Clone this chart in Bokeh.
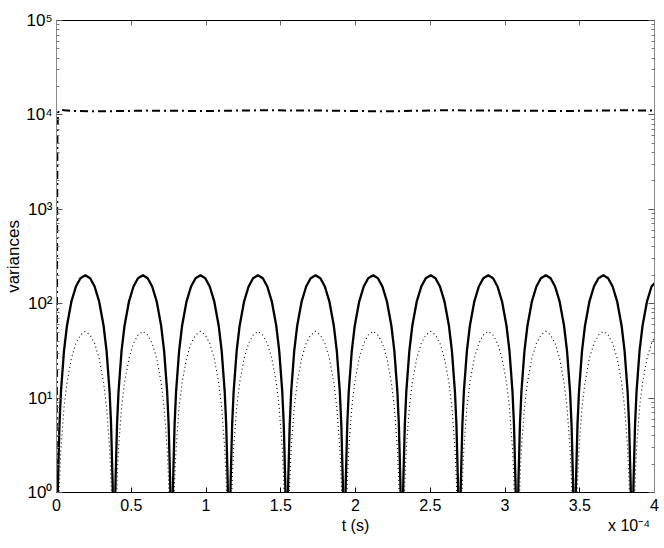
from bokeh.plotting import figure
from bokeh.models import (ColumnDataSource, LinearAxis, LogAxis, FixedTicker,
                          CustomJSTickFormatter)
from bokeh.embed import file_html
from bokeh.resources import INLINE

# ---- data (time in units of 1e-4 s) ----
t_e4 = [
    0.0, 0.01, 0.02, 0.03, 0.05, 0.07, 0.10, 0.13, 0.16, 0.193, 0.225, 0.255, 0.285, 0.315, 0.335, 0.355, 0.365, 0.375,
    0.385, 0.395, 0.405, 0.415, 0.435, 0.455, 0.485, 0.515, 0.545, 0.578, 0.61, 0.64, 0.67, 0.70, 0.72, 0.74, 0.75, 0.76,
    0.77, 0.78, 0.79, 0.80, 0.82, 0.84, 0.87, 0.90, 0.93, 0.963, 0.995, 1.025, 1.055, 1.085, 1.105, 1.125, 1.135, 1.145,
    1.155, 1.165, 1.175, 1.185, 1.205, 1.225, 1.255, 1.285, 1.315, 1.348, 1.38, 1.41, 1.44, 1.47, 1.49, 1.51, 1.52, 1.53,
    1.54, 1.55, 1.56, 1.57, 1.59, 1.61, 1.64, 1.67, 1.70, 1.733, 1.765, 1.795, 1.825, 1.855, 1.875, 1.895, 1.905, 1.915,
    1.925, 1.935, 1.945, 1.955, 1.975, 1.995, 2.025, 2.055, 2.085, 2.118, 2.15, 2.18, 2.21, 2.24, 2.26, 2.28, 2.29, 2.30,
    2.31, 2.32, 2.33, 2.34, 2.36, 2.38, 2.41, 2.44, 2.47, 2.503, 2.535, 2.565, 2.595, 2.625, 2.645, 2.665, 2.675, 2.685,
    2.695, 2.705, 2.715, 2.725, 2.745, 2.765, 2.795, 2.825, 2.855, 2.888, 2.92, 2.95, 2.98, 3.01, 3.03, 3.05, 3.06, 3.07,
    3.08, 3.09, 3.10, 3.11, 3.13, 3.15, 3.18, 3.21, 3.24, 3.273, 3.305, 3.335, 3.365, 3.395, 3.415, 3.435, 3.445, 3.455,
    3.465, 3.475, 3.485, 3.495, 3.515, 3.535, 3.565, 3.595, 3.625, 3.658, 3.69, 3.72, 3.75, 3.78, 3.80, 3.82, 3.83, 3.84,
    3.85, 3.86, 3.87, 3.88, 3.90, 3.92, 3.95, 3.98, 4.00,
]

var_solid = [
    0.2, 1.33, 5.3, 11.8, 31.5, 58.4, 106, 152, 186, 200, 186, 152, 106, 58.4, 31.5, 11.8, 5.3, 1.33,
    0.2, 1.33, 5.3, 11.8, 31.5, 58.4, 106, 152, 186, 200, 186, 152, 106, 58.4, 31.5, 11.8, 5.3, 1.33,
    0.2, 1.33, 5.3, 11.8, 31.5, 58.4, 106, 152, 186, 200, 186, 152, 106, 58.4, 31.5, 11.8, 5.3, 1.33,
    0.2, 1.33, 5.3, 11.8, 31.5, 58.4, 106, 152, 186, 200, 186, 152, 106, 58.4, 31.5, 11.8, 5.3, 1.33,
    0.2, 1.33, 5.3, 11.8, 31.5, 58.4, 106, 152, 186, 200, 186, 152, 106, 58.4, 31.5, 11.8, 5.3, 1.33,
    0.2, 1.33, 5.3, 11.8, 31.5, 58.4, 106, 152, 186, 200, 186, 152, 106, 58.4, 31.5, 11.8, 5.3, 1.33,
    0.2, 1.33, 5.3, 11.8, 31.5, 58.4, 106, 152, 186, 200, 186, 152, 106, 58.4, 31.5, 11.8, 5.3, 1.33,
    0.2, 1.33, 5.3, 11.8, 31.5, 58.4, 106, 152, 186, 200, 186, 152, 106, 58.4, 31.5, 11.8, 5.3, 1.33,
    0.2, 1.33, 5.3, 11.8, 31.5, 58.4, 106, 152, 186, 200, 186, 152, 106, 58.4, 31.5, 11.8, 5.3, 1.33,
    0.2, 1.33, 5.3, 11.8, 31.5, 58.4, 106, 152, 186, 200, 186, 152, 106, 58.4, 31.5, 11.8, 5.3, 1.33,
    0.2, 1.33, 5.3, 11.8, 31.5, 58.4, 106, 152, 165,
]

var_dotted = [
    0.05, 0.33, 1.32, 2.94, 7.9, 14.6, 26.5, 38, 46.5, 51, 46.5, 38, 26.5, 14.6, 7.9, 2.94, 1.32, 0.33,
    0.05, 0.33, 1.32, 2.94, 7.9, 14.6, 26.5, 38, 46.5, 51, 46.5, 38, 26.5, 14.6, 7.9, 2.94, 1.32, 0.33,
    0.05, 0.33, 1.32, 2.94, 7.9, 14.6, 26.5, 38, 46.5, 51, 46.5, 38, 26.5, 14.6, 7.9, 2.94, 1.32, 0.33,
    0.05, 0.33, 1.32, 2.94, 7.9, 14.6, 26.5, 38, 46.5, 51, 46.5, 38, 26.5, 14.6, 7.9, 2.94, 1.32, 0.33,
    0.05, 0.33, 1.32, 2.94, 7.9, 14.6, 26.5, 38, 46.5, 51, 46.5, 38, 26.5, 14.6, 7.9, 2.94, 1.32, 0.33,
    0.05, 0.33, 1.32, 2.94, 7.9, 14.6, 26.5, 38, 46.5, 51, 46.5, 38, 26.5, 14.6, 7.9, 2.94, 1.32, 0.33,
    0.05, 0.33, 1.32, 2.94, 7.9, 14.6, 26.5, 38, 46.5, 51, 46.5, 38, 26.5, 14.6, 7.9, 2.94, 1.32, 0.33,
    0.05, 0.33, 1.32, 2.94, 7.9, 14.6, 26.5, 38, 46.5, 51, 46.5, 38, 26.5, 14.6, 7.9, 2.94, 1.32, 0.33,
    0.05, 0.33, 1.32, 2.94, 7.9, 14.6, 26.5, 38, 46.5, 51, 46.5, 38, 26.5, 14.6, 7.9, 2.94, 1.32, 0.33,
    0.05, 0.33, 1.32, 2.94, 7.9, 14.6, 26.5, 38, 46.5, 51, 46.5, 38, 26.5, 14.6, 7.9, 2.94, 1.32, 0.33,
    0.05, 0.33, 1.32, 2.94, 7.9, 14.6, 26.5, 38, 44,
]

t_dashdot_e4 = [0.0, 0.002, 0.004, 0.006, 0.010, 0.02, 0.05, 0.1, 0.3, 0.6, 1.0, 1.4, 1.8, 2.2, 2.6, 3.0, 3.4, 3.8, 4.0]
var_dashdot = [0.5, 5, 300, 6000, 10500, 11300, 11200, 11000, 10900, 11100, 11000, 11200, 11100, 10900, 11200, 11100, 11000, 11200, 11100]

x_ticks = [0, 0.5, 1, 1.5, 2, 2.5, 3, 3.5, 4]
y_exponents = [0, 1, 2, 3, 4, 5]
x_label_text = "t (s)"
x_label_pos = 2.0
x_mult_text = "x 10\u207b\u2074"
x_mult_pos = 3.83

FONT = "Liberation Sans"

y_major = [10.0 ** e for e in y_exponents]
y_minor = [m * 10.0 ** e for e in y_exponents[:-1] for m in range(2, 10)]

p = figure(width=664, height=548, x_range=(0, 4), y_range=(1, 1e5),
           y_axis_type="log", output_backend="svg", toolbar_location=None,
           min_border_left=56, min_border_right=10, min_border_top=20,
           min_border_bottom=56)
p.background_fill_color = "white"
p.border_fill_color = "white"
p.outline_line_color = None
p.xgrid.visible = False
p.ygrid.visible = False

src = ColumnDataSource(dict(t=t_e4, solid=var_solid, dotted=var_dotted))
dd = ColumnDataSource(dict(t=t_dashdot_e4, v=var_dashdot))

p.line("t", "dotted", source=src, line_color="black", line_width=1.1, line_dash="1 3")
p.line("t", "solid", source=src, line_color="black", line_width=2.3)
p.line("t", "v", source=dd, line_color="black", line_width=2, line_dash="8 4 2 4")

# bottom x axis (tick labels)
xa = p.xaxis[0]
xa.ticker = FixedTicker(ticks=x_ticks)
xa.formatter = CustomJSTickFormatter(code="return tick.toString();")
xa.major_label_text_font = FONT
xa.major_label_text_font_size = "16px"
xa.major_label_text_color = "black"
xa.major_label_standoff = 6
xa.major_tick_in = 5
xa.major_tick_out = 0
xa.minor_tick_in = 0
xa.minor_tick_out = 0
xa.axis_line_color = "black"
xa.major_tick_line_color = "black"

# second row below: axis title and exponent multiplier
xa2 = LinearAxis(ticker=FixedTicker(ticks=[x_label_pos, x_mult_pos]),
                 formatter=CustomJSTickFormatter(
                     args=dict(lab=x_label_text, mult=x_mult_text, lp=x_label_pos),
                     code="return Math.abs(tick - lp) < 1e-6 ? lab : mult;"),
                 major_label_text_font=FONT, major_label_text_font_size="16px",
                 major_label_text_color="black", major_label_standoff=3,
                 major_tick_in=0, major_tick_out=0, minor_tick_in=0, minor_tick_out=0,
                 axis_line_color=None, major_tick_line_color=None,
                 minor_tick_line_color=None)
p.add_layout(xa2, "below")

# left y axis
ya = p.yaxis[0]
ya.ticker = FixedTicker(ticks=y_major, minor_ticks=y_minor)
ya.formatter = CustomJSTickFormatter(code="""
const sup = ['\\u2070', '\\u00b9', '\\u00b2', '\\u00b3', '\\u2074', '\\u2075',
             '\\u2076', '\\u2077', '\\u2078', '\\u2079'];
const e = Math.round(Math.log10(tick));
return '10' + sup[e];
""")
ya.axis_label = "variances"
ya.axis_label_text_font = FONT
ya.axis_label_text_font_size = "17px"
ya.axis_label_text_font_style = "normal"
ya.axis_label_text_color = "black"
ya.axis_label_standoff = 0
ya.major_label_text_font = FONT
ya.major_label_text_font_size = "17px"
ya.major_label_text_color = "black"
ya.major_label_standoff = 4
ya.major_tick_in = 6
ya.major_tick_out = 0
ya.minor_tick_in = 3
ya.minor_tick_out = 0
ya.axis_line_color = "#8a8a8a"
ya.major_tick_line_color = "#555555"
ya.minor_tick_line_color = "#777777"

# top axis (box)
ta = LinearAxis(ticker=FixedTicker(ticks=x_ticks),
                formatter=CustomJSTickFormatter(code="return '';"),
                major_label_text_font_size="1px",
                major_label_standoff=0, major_tick_in=5, major_tick_out=0,
                minor_tick_in=0, minor_tick_out=0, axis_line_color="black",
                major_tick_line_color="#666666")
p.add_layout(ta, "above")

# right axis (box)
ra = LogAxis(ticker=FixedTicker(ticks=y_major, minor_ticks=y_minor),
             formatter=CustomJSTickFormatter(code="return '';"),
             major_label_text_font_size="1px", major_label_standoff=0,
             major_tick_in=6, major_tick_out=0, minor_tick_in=3, minor_tick_out=0,
             axis_line_color="#8a8a8a", major_tick_line_color="#555555",
             minor_tick_line_color="#777777")
p.add_layout(ra, "right")

open("out.html", "w", encoding="utf-8").write(file_html(p, INLINE))
